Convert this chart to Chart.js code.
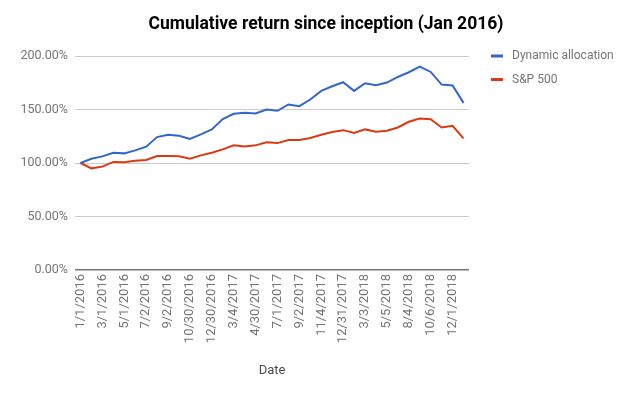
<!DOCTYPE html>
<html>
<head>
<meta charset="utf-8">
<script src="https://cdn.jsdelivr.net/npm/chart.js@4"></script>
<style>
  html, body { margin: 0; padding: 0; background: #fff; }
  #wrap { width: 640px; height: 396px; }
</style>
</head>
<body>
<div id="wrap"><canvas id="c" width="640" height="396"></canvas></div>
<script>
const chartTitle = 'Cumulative return since inception (Jan 2016)';
const xAxisTitle = 'Date';
const seriesNames = ['Dynamic allocation', 'S&P 500'];
const seriesColors = ['#3366cc', '#dc3912'];

const dates = [
  '1/1/2016', '2/1/2016', '3/1/2016', '4/1/2016', '5/1/2016', '6/1/2016',
  '7/2/2016', '8/6/2016', '9/2/2016', '10/1/2016', '10/30/2016', '12/3/2016',
  '12/30/2016', '2/4/2017', '3/4/2017', '4/1/2017', '4/30/2017', '6/3/2017',
  '7/1/2017', '8/5/2017', '9/2/2017', '10/7/2017', '11/4/2017', '12/2/2017',
  '12/31/2017', '2/3/2018', '3/3/2018', '4/7/2018', '5/5/2018', '6/23/2018',
  '8/4/2018', '9/8/2018', '10/6/2018', '11/3/2018', '12/1/2018', '12/29/2018'
];

const dynamicAllocation = [
  100, 104, 106.2, 109.6, 109, 111.8, 115.2, 124.2, 126.4, 125.5, 122.4, 126.7,
  131.4, 141, 146, 146.9, 146.3, 150, 148.8, 154.7, 153.1, 159.3, 167.4, 171.7,
  175.5, 167.4, 174.5, 172.7, 175.2, 180.4, 184.8, 190, 185.1, 173.3, 172.4, 156.2
];

const sp500 = [
  100, 95, 96.6, 101, 100.6, 102.2, 102.8, 106.5, 106.5, 106.2, 104, 107.1,
  109.6, 112.7, 116.5, 115.5, 116.5, 119.3, 118.6, 121.4, 121.4, 123.3, 126.4, 128.9,
  130.7, 128, 131.4, 129.2, 130.1, 133.2, 138.5, 141.6, 141, 133.2, 134.8, 123
];

const yTicks = [0, 50, 100, 150, 200];

const textPlugin = {
  id: 'textPlugin',
  afterDraw(chart) {
    const ctx = chart.ctx;
    ctx.save();
    // title
    ctx.fillStyle = '#000';
    ctx.font = 'bold 17.5px Roboto';
    ctx.textAlign = 'center';
    ctx.textBaseline = 'middle';
    ctx.fillText(chartTitle, 326, 25);
    // legend
    ctx.font = '12px Roboto';
    ctx.textAlign = 'left';
    chart.data.datasets.forEach((ds, i) => {
      const y = 56 + i * 23.5;
      ctx.fillStyle = ds.borderColor;
      ctx.fillRect(491, y - 1.5, 12, 3);
      ctx.fillStyle = '#757575';
      ctx.fillText(ds.label, 512, y);
    });
    ctx.restore();
  }
};

new Chart(document.getElementById('c'), {
  type: 'line',
  data: {
    labels: dates,
    datasets: [
      { label: seriesNames[0], data: dynamicAllocation, borderColor: seriesColors[0], backgroundColor: seriesColors[0],
        borderWidth: 2, pointRadius: 0, tension: 0, fill: false },
      { label: seriesNames[1], data: sp500, borderColor: seriesColors[1], backgroundColor: seriesColors[1],
        borderWidth: 2, pointRadius: 0, tension: 0, fill: false }
    ]
  },
  plugins: [textPlugin],
  options: {
    responsive: false,
    animation: false,
    devicePixelRatio: 1,
    layout: { padding: { top: 56, right: 171, bottom: 0, left: 0 } },
    plugins: {
      legend: { display: false },
      title: { display: false },
      tooltip: { enabled: false }
    },
    scales: {
      x: {
        type: 'category',
        offset: true,
        grid: { display: false, drawTicks: false },
        border: { display: false },
        ticks: {
          autoSkip: false,
          maxRotation: 90,
          minRotation: 90,
          padding: 4,
          color: '#757575',
          font: { family: 'Roboto', size: 13 },
          callback: function (v, i) { return i % 2 === 0 ? this.getLabelForValue(v) : ''; }
        },
        title: {
          display: true,
          text: xAxisTitle,
          color: '#4a4a4a',
          font: { family: 'Roboto', size: 13 },
          padding: { top: 4, bottom: 17 }
        },
        afterFit(scale) { scale.height = 126; }
      },
      y: {
        min: 0,
        max: 200,
        afterBuildTicks(scale) { scale.ticks = yTicks.map(v => ({ value: v })); },
        grid: {
          drawTicks: false,
          color: ctx => (ctx.tick && ctx.tick.value === 0) ? '#777777' : '#cccccc',
          lineWidth: ctx => (ctx.tick && ctx.tick.value === 0) ? 1.5 : 1
        },
        border: { display: false },
        ticks: {
          padding: 7,
          color: '#757575',
          font: { family: 'Roboto', size: 12.5 },
          callback: v => v.toFixed(2) + '%'
        },
        afterFit(scale) { scale.width = 75; }
      }
    }
  }
});
</script>
</body>
</html>
